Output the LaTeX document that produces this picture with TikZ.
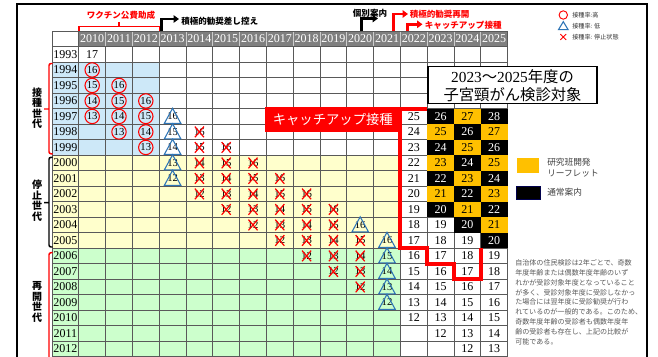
\documentclass[tikz,border=0pt]{standalone}
\usepackage{fontspec}
\setmainfont{Liberation Serif}
\newfontfamily\jp{Noto Sans CJK JP}
\usepackage{tikz}
\usetikzlibrary{arrows.meta}

\definecolor{hdrgray}{HTML}{7F7F7F}
\definecolor{bluebg}{HTML}{CDE8F8}
\definecolor{yellowbg}{HTML}{FFFFCC}
\definecolor{greenbg}{HTML}{CCFFCC}
\definecolor{leaflet}{HTML}{FFC000}
\definecolor{triblue}{HTML}{2E75B6}
\definecolor{notegray}{HTML}{595959}

\begin{document}
\begin{tikzpicture}[x=0.75pt, y=-0.75pt]
    \tikzstyle{yearhd} = [text=white, font=\fontsize{9}{9}\selectfont, inner sep=0pt]
    \tikzstyle{yearlbl} = [font=\fontsize{9}{9}\selectfont, inner sep=0pt]
    \tikzstyle{agenum} = [font=\fontsize{9}{9}\selectfont, inner sep=0pt]
    \tikzstyle{marknum} = [font=\fontsize{8}{8}\selectfont, inner sep=0pt]
    \tikzstyle{hicirc} = [circle, draw=red, line width=0.8pt, inner sep=0pt, minimum size=10.8pt, font=\fontsize{8}{8}\selectfont]
    \tikzstyle{lowtri} = [draw=triblue, line width=0.8pt, line join=miter]
    \tikzstyle{stopx} = [draw=red, line width=0.9pt]
    \tikzstyle{gridln} = [black!65, line width=0.5pt]
    \tikzstyle{redbrk} = [red, line width=1.1pt, rounded corners=1.5pt]
    \tikzstyle{blkbrk} = [black, line width=1.1pt, rounded corners=1.5pt]
    \tikzstyle{genlbl} = [align=center, inner sep=0pt, font=\jp\bfseries\fontsize{7.5}{7.9}\selectfont]
    \tikzstyle{notejp} = [inner sep=0pt, anchor=west, font=\jp\bfseries\fontsize{6.4}{6.4}\selectfont]
    \tikzstyle{callout} = [line width=2.2pt, -{Triangle[length=4pt,width=5.5pt]}]
    \tikzstyle{legtxt} = [inner sep=0pt, anchor=west, text=black!80, font=\jp\fontsize{4.6}{4.6}\selectfont]
    \tikzstyle{keytxt} = [inner sep=0pt, anchor=west, align=left, text=black!75, font=\jp\fontsize{6.5}{8}\selectfont]

    \useasboundingbox (0,0) rectangle (658,357);
    \clip (0,0) rectangle (658,357);
    \fill[white] (0,0) rectangle (658,357);
    \draw[line width=1.5pt] (17,370) -- (17,4) -- (647,4) -- (647,370);

    \begin{scope}[shift={(52,31.2)}, x=20.1pt, y=-11.625pt]
        \fill[bluebg] (0,2) rectangle (4,8);
        \fill[yellowbg] (0,8) rectangle (13,14);
        \fill[greenbg] (0,14) rectangle (13,21);
        \fill[hdrgray] (1,0) rectangle (17,1);
        \foreach \r in {0,...,21} \draw[gridln] (0,\r) -- (17,\r);
        \foreach \c in {0,...,17} \draw[gridln] (\c,0) -- (\c,21);
        \foreach \c in {2,...,16} \draw[gray!40, line width=0.5pt] (\c,0.04) -- (\c,0.96);
        \foreach \c in {1,...,16} {
            \pgfmathtruncatemacro\yr{2009+\c}
            \node[yearhd] (h-\c) at (\c+.5,.5) {\yr};
        }
        \foreach \r in {1,...,20} {
            \pgfmathtruncatemacro\yr{1992+\r}
            \node[yearlbl] (y-\r) at (.5,\r+.5) {\yr};
        }
        \node[agenum] (m-1-1) at (1.5,1.5) {17};
        \foreach \r in {2,...,20} \foreach \c in {1,...,12} {
            \pgfmathtruncatemacro\age{17+\c-\r}
            \ifnum\c<4
                \ifnum\age>12 \ifnum\age<17
                    \node[hicirc] (m-\r-\c) at (\c+.5,\r+.5) {\age};
                \fi\fi
            \else
                \ifnum\age>11 \ifnum\age<17
                    \node[marknum] (m-\r-\c) at (\c+.5,\r+.5) {\age};
                    \def\tri{0}
                    \ifnum\c=4 \def\tri{1}\fi
                    \ifnum\c=12 \def\tri{1}\fi
                    \ifnum\c=11 \ifnum\age=16 \def\tri{1}\fi\fi
                    \ifnum\tri=1
                        \draw[lowtri] ([yshift=6.1pt]m-\r-\c.center) -- ([xshift=-6.2pt,yshift=-5.2pt]m-\r-\c.center) -- ([xshift=6.2pt,yshift=-5.2pt]m-\r-\c.center) -- cycle;
                    \else
                        \draw[stopx] ([xshift=-3.4pt,yshift=4pt]m-\r-\c.center) -- ([xshift=3.4pt,yshift=-4pt]m-\r-\c.center)
                            ([xshift=-3.4pt,yshift=-4pt]m-\r-\c.center) -- ([xshift=3.4pt,yshift=4pt]m-\r-\c.center);
                    \fi
                \fi\fi
            \fi
        }
        \foreach \r in {5,...,20} \foreach \c in {13,...,16} {
            \pgfmathtruncatemacro\age{17+\c-\r}
            \def\tc{black}
            \ifnum\age>11
                \ifnum\c>13 \ifnum\age>19
                    \ifodd\age
                        \fill[leaflet] (\c,\r) rectangle (\c+1,\r+1);
                    \else
                        \fill[black] (\c,\r) rectangle (\c+1,\r+1);
                        \def\tc{white}
                    \fi
                \fi\fi
                \node[agenum, text=\tc] (a-\r-\c) at (\c+.5,\r+.5) {\age};
            \fi
        }
        \draw[red, line width=3pt, line join=miter] (14,5) -- (13,5) -- (13,14) -- (14,14) -- (14,15) -- (15,15) -- (15,16) -- (16,16) -- (16,14);
    \end{scope}

    \node[fill=red, text=white, inner sep=0pt, minimum width=101.7pt, minimum height=18.3pt, font=\jp\fontsize{10}{10}\selectfont] (catchup) at (332.8,119.5) {キャッチアップ接種};
    \node[draw, line width=1.1pt, fill=white, align=center, inner sep=0pt, minimum width=126.8pt, minimum height=27.8pt, font=\fontsize{11.5}{13.5}\selectfont] (target) at (512.5,85.2) {2023{\jp ～}2025{\jp 年度の}\\{\jp 子宮頸がん検診対象}};

    \node[notejp, text=red, anchor=center] (subsidy) at (121,15) {ワクチン公費助成};
    \draw[redbrk, rounded corners=0pt] (79,31.2) -- (79,26.7) -- (159.4,26.7) -- (159.4,31.2) (119.2,26.7) -- (119.2,21.7);

    \coordinate (hold-s) at (161.8,31.2);
    \coordinate (hold-e) at (179,19);
    \draw[callout] (hold-s) |- (hold-e);
    \node[notejp] (hold) at (181,21.5) {積極的勧奨差し控え};

    \coordinate (indiv-s) at (361.7,31.2);
    \coordinate (indiv-e) at (378,18.5);
    \draw[callout] (indiv-s) |- (indiv-e);
    \node[notejp, anchor=center] (indiv) at (370,12.8) {個別案内};

    \coordinate (resume-s) at (393.3,31.2);
    \coordinate (resume-e) at (408,14);
    \draw[callout, red] (resume-s) |- (resume-e);
    \node[notejp, text=red] (resume) at (409.5,14.3) {積極的勧奨再開};

    \coordinate (catch-s) at (407.3,31.2);
    \coordinate (catch-e) at (422.5,24.3);
    \draw[callout, red] (catch-s) |- (catch-e);
    \node[notejp, text=red] (catch) at (424.5,25) {キャッチアップ接種};

    \draw[redbrk] (52.5,63.5) -- (49,63.5) -- (49,153.8) -- (52.5,153.8) (49,109) -- (44,109);
    \node[genlbl] (gen-vac) at (37,108) {接\\種\\世\\代};
    \draw[blkbrk] (52.5,157.3) -- (49,157.3) -- (49,247) -- (52.5,247) (49,202.7) -- (44,202.7);
    \node[genlbl] (gen-stop) at (37,200.5) {停\\止\\世\\代};
    \draw[redbrk] (52.5,252.7) -- (49,252.7) -- (49,365);
    \node[genlbl] (gen-re) at (37,302) {再\\開\\世\\代};

    \node[circle, draw=red, line width=0.7pt, minimum size=6.3pt, inner sep=0pt] (key-hi) at (563.3,15) {};
    \node[legtxt] (key-hi-t) at (572,15.3) {接種率:高};
    \coordinate (key-lo) at (563.3,26.2);
    \draw[triblue, line width=0.8pt, line join=miter] ([yshift=3.4pt]key-lo) -- ([xshift=-3.6pt,yshift=-2.6pt]key-lo) -- ([xshift=3.6pt,yshift=-2.6pt]key-lo) -- cycle;
    \node[legtxt] (key-lo-t) at (572,26.3) {接種率: 低};
    \coordinate (key-x) at (563.3,37);
    \draw[red, line width=0.6pt] ([xshift=-2.2pt,yshift=2.2pt]key-x) -- ([xshift=2.2pt,yshift=-2.2pt]key-x) ([xshift=-2.2pt,yshift=-2.2pt]key-x) -- ([xshift=2.2pt,yshift=2.2pt]key-x);
    \node[legtxt] (key-x-t) at (572,37.3) {接種率: 停止状態};

    \node[fill=leaflet, inner sep=0pt, minimum width=16.5pt, minimum height=10.8pt] (key-leaf) at (528.3,165.5) {};
    \node[keytxt] (key-leaf-t) at (547,168) {研究班開発\\リーフレット};
    \node[fill=black, draw=blue!30!black, line width=0.6pt, inner sep=0pt, minimum width=18pt, minimum height=9.8pt] (key-usual) at (528.8,192.7) {};
    \node[keytxt] (key-usual-t) at (547,192.7) {通常案内};

    \node[inner sep=0pt, anchor=north west, align=left, text=notegray, font=\jp\fontsize{5.3}{7.35}\selectfont] (note) at (515,259.5) {自治体の住民検診は2年ごとで、奇数\\年度年齢または偶数年度年齢のいず\\れかが受診対象年度となっていること\\が多く、受診対象年度に受診しなかっ\\た場合には翌年度に受診勧奨が行わ\\れているのが一般的である。このため、\\奇数年度年齢の受診者も偶数年度年\\齢の受診者も存在し、上記の比較が\\可能である。};
\end{tikzpicture}
\end{document}
